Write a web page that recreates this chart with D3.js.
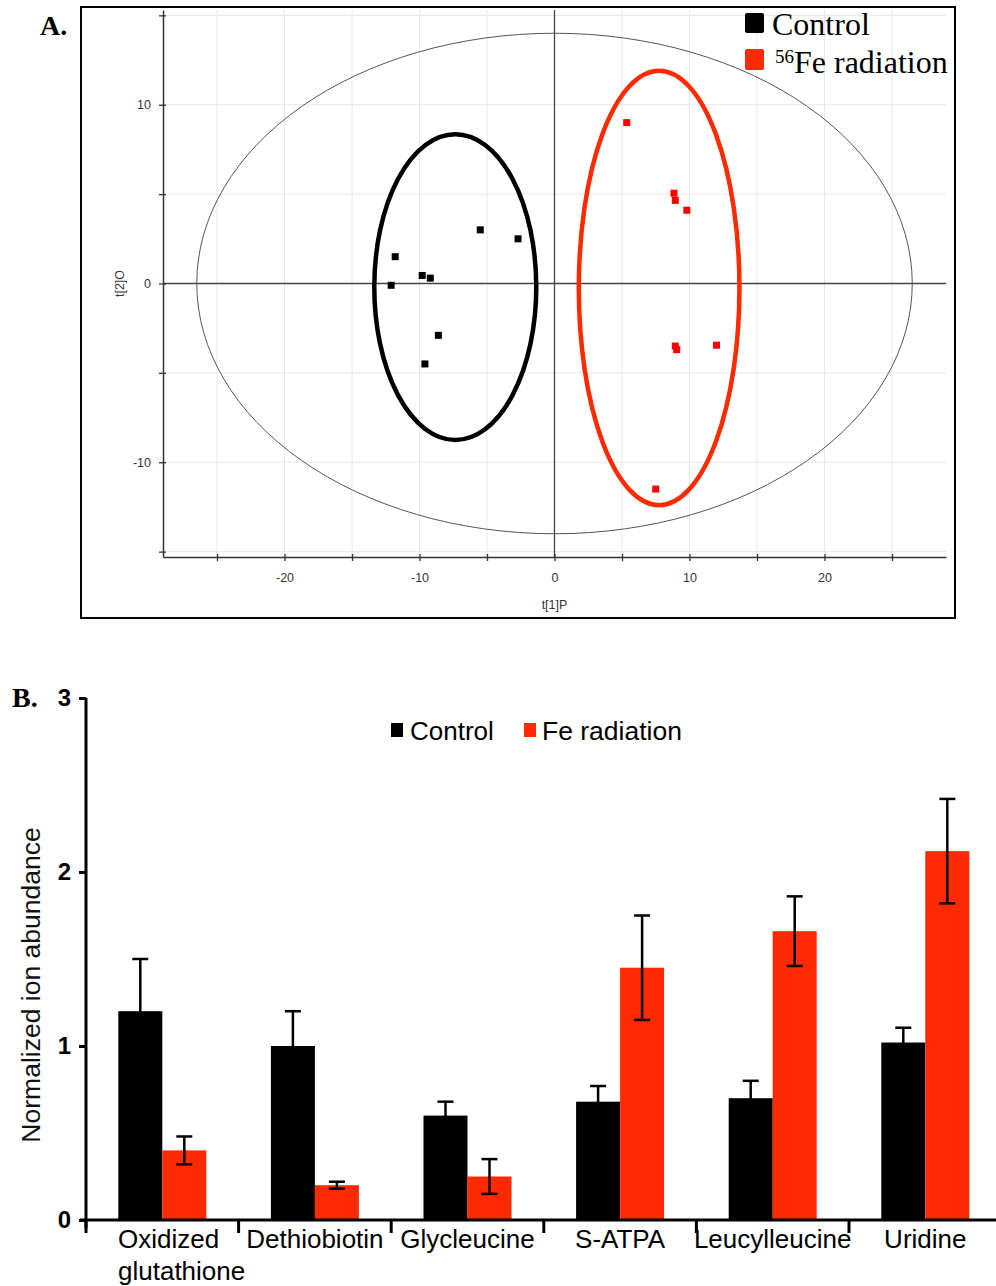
<!DOCTYPE html>
<html>
<head>
<meta charset="utf-8">
<script src="https://cdn.jsdelivr.net/npm/d3@7"></script>
<style>
  body { margin: 0; background: #fff; }
  svg { display: block; }
</style>
</head>
<body>
<div id="chart"></div>
<script>
// Panel A - score plot data (t[1]P, t[2]O)
var controlX = [-5.5, -2.7, -11.8, -9.8, -9.2, -12.1, -8.6, -9.6];
var controlY = [3.0, 2.5, 1.5, 0.45, 0.3, -0.1, -2.9, -4.5];
var feX = [5.35, 8.85, 8.95, 9.8, 8.95, 9.05, 12.0, 7.5];
var feY = [9.0, 5.05, 4.65, 4.1, -3.5, -3.7, -3.45, -11.5];
var scoreTicks = [-25, -20, -15, -10, -5, 0, 5, 10, 15, 20, 25];

// Panel B - bar chart data
var categories = ["Oxidized glutathione", "Dethiobiotin", "Glycleucine", "S-ATPA", "Leucylleucine", "Uridine"];
var controlMean = [1.20, 1.00, 0.60, 0.68, 0.70, 1.02];
var controlErr = [0.30, 0.20, 0.08, 0.09, 0.10, 0.085];
var feMean = [0.40, 0.20, 0.25, 1.45, 1.66, 2.12];
var feErr = [0.08, 0.02, 0.10, 0.30, 0.20, 0.30];
var barTicks = [0, 1, 2, 3];

var svgWidth = 996;
var svgHeight = 1286;
var red = "#ff2a00";

var svg = d3.select("#chart")
  .append("svg")
  .attr("width", svgWidth)
  .attr("height", svgHeight);

// ---------- Panel A ----------
var xA = d3.scaleLinear().domain([-29, 29]).range([163, 946]);
var yA = d3.scaleLinear().domain([-15.3, 15.3]).range([557, 10]);

var gA = svg.append("g");

// grid
gA.append("g").selectAll("line")
  .data(scoreTicks)
  .enter()
  .append("line")
  .attr("x1", d => xA(d)).attr("x2", d => xA(d))
  .attr("y1", yA(15.3)).attr("y2", yA(-15.3))
  .attr("stroke", "#e8e8e8");

gA.append("g").selectAll("line")
  .data(scoreTicks.filter(d => Math.abs(d) <= 15))
  .enter()
  .append("line")
  .attr("x1", xA(-29)).attr("x2", xA(29))
  .attr("y1", d => yA(d)).attr("y2", d => yA(d))
  .attr("stroke", "#e8e8e8");

// zero lines
gA.append("line")
  .attr("x1", xA(-29)).attr("x2", xA(29))
  .attr("y1", yA(0)).attr("y2", yA(0))
  .attr("stroke", "#444").attr("stroke-width", 1.3);
gA.append("line")
  .attr("x1", xA(0)).attr("x2", xA(0))
  .attr("y1", yA(15.3)).attr("y2", yA(-15.3))
  .attr("stroke", "#444").attr("stroke-width", 1.3);

// axes
var bottomAxis = d3.axisBottom(xA)
  .tickValues(scoreTicks)
  .tickSizeOuter(0)
  .tickSizeInner(4)
  .tickPadding(12)
  .tickFormat(d => d % 10 === 0 ? d : "");
var leftAxis = d3.axisLeft(yA)
  .tickValues([-15, -10, -5, 0, 5, 10, 15])
  .tickSizeOuter(0)
  .tickSizeInner(4)
  .tickPadding(8)
  .tickFormat(d => d % 10 === 0 ? d : "");

var xAxisA = gA.append("g")
  .attr("transform", `translate(0,${yA(-15.3)})`)
  .call(bottomAxis);
var yAxisA = gA.append("g")
  .attr("transform", `translate(${xA(-29)},0)`)
  .call(leftAxis);

[xAxisA, yAxisA].forEach(function (ax) {
  ax.select(".domain").attr("stroke", "#333").attr("stroke-width", 1.5);
  ax.selectAll(".tick line").attr("stroke", "#333").attr("stroke-width", 1.3);
  ax.selectAll("text")
    .attr("font-family", "Liberation Sans, Arial, sans-serif")
    .attr("font-size", "12.5px")
    .attr("fill", "#333");
});
xAxisA.selectAll(".tick line").attr("y1", -3).attr("y2", 4);
yAxisA.selectAll(".tick line").attr("x1", 3).attr("x2", -4);

gA.append("text")
  .attr("x", xA(0)).attr("y", 609)
  .attr("text-anchor", "middle")
  .attr("font-family", "Liberation Sans, Arial, sans-serif")
  .attr("font-size", "12.5px").attr("fill", "#333")
  .text("t[1]P");
gA.append("text")
  .attr("transform", `translate(124,${yA(0)}) rotate(-90)`)
  .attr("text-anchor", "middle")
  .attr("font-family", "Liberation Sans, Arial, sans-serif")
  .attr("font-size", "12.5px").attr("fill", "#333")
  .text("t[2]O");

// Hotelling ellipse
gA.append("ellipse")
  .attr("cx", xA(0)).attr("cy", yA(0))
  .attr("rx", xA(26.5) - xA(0)).attr("ry", yA(0) - yA(14))
  .attr("fill", "none").attr("stroke", "#555").attr("stroke-width", 1);

// group ellipses
gA.append("ellipse")
  .attr("cx", xA(-7.35)).attr("cy", yA(-0.2))
  .attr("rx", xA(6.0) - xA(0)).attr("ry", yA(0) - yA(8.55))
  .attr("fill", "none").attr("stroke", "#000").attr("stroke-width", 4.5);
gA.append("ellipse")
  .attr("cx", xA(7.75)).attr("cy", yA(-0.25))
  .attr("rx", xA(5.95) - xA(0)).attr("ry", yA(0) - yA(12.15))
  .attr("fill", "none").attr("stroke", red).attr("stroke-width", 4.5);

// points
gA.append("g").selectAll("rect")
  .data(controlX.map((d, i) => [d, controlY[i]]))
  .enter()
  .append("rect")
  .attr("x", d => xA(d[0]) - 3.5).attr("y", d => yA(d[1]) - 3.5)
  .attr("width", 7).attr("height", 7)
  .attr("fill", "#000");
gA.append("g").selectAll("rect")
  .data(feX.map((d, i) => [d, feY[i]]))
  .enter()
  .append("rect")
  .attr("x", d => xA(d[0]) - 3.5).attr("y", d => yA(d[1]) - 3.5)
  .attr("width", 7).attr("height", 7)
  .attr("fill", "#ff0000");

// frame
gA.append("rect")
  .attr("x", 81).attr("y", 7).attr("width", 874).attr("height", 611)
  .attr("fill", "none").attr("stroke", "#000").attr("stroke-width", 2);

// legend A
gA.append("rect").attr("x", 745).attr("y", 13).attr("width", 19).attr("height", 20).attr("rx", 2).attr("fill", "#000");
gA.append("rect").attr("x", 745).attr("y", 49).attr("width", 19).attr("height", 21).attr("rx", 2).attr("fill", red);
gA.append("text")
  .attr("x", 772).attr("y", 35)
  .attr("font-family", "Liberation Serif, Times New Roman, serif")
  .attr("font-size", "32px").attr("fill", "#000")
  .text("Control");
var feLabel = gA.append("text")
  .attr("x", 775).attr("y", 73)
  .attr("font-family", "Liberation Serif, Times New Roman, serif")
  .attr("font-size", "32px").attr("fill", "#000");
feLabel.append("tspan").attr("font-size", "19px").attr("dy", -10).text("56");
feLabel.append("tspan").attr("dy", 10).text("Fe radiation");

gA.append("text")
  .attr("x", 40).attr("y", 35)
  .attr("font-family", "Liberation Serif, Times New Roman, serif")
  .attr("font-weight", "bold")
  .attr("font-size", "28px")
  .text("A.");

// ---------- Panel B ----------
var yB = d3.scaleLinear().domain([0, 3]).range([1220, 698]);
var x0 = d3.scaleBand().domain(categories).range([86, 86 + 152.6 * 6]).padding(0);
var x1 = d3.scaleBand().domain(["Control", "Fe"]).range([0, x0.bandwidth()])
  .paddingInner(0).paddingOuter(0.734);

var gB = svg.append("g");

var barData = categories.map(function (c, i) {
  return [
    { cat: c, key: "Control", value: controlMean[i], err: controlErr[i] },
    { cat: c, key: "Fe", value: feMean[i], err: feErr[i] }
  ];
});

var groups = gB.selectAll(".grp")
  .data(barData)
  .enter()
  .append("g")
  .attr("class", "grp")
  .attr("transform", d => `translate(${x0(d[0].cat)},0)`);

groups.selectAll("rect")
  .data(d => d)
  .enter()
  .append("rect")
  .attr("x", d => x1(d.key))
  .attr("y", d => yB(d.value))
  .attr("width", x1.bandwidth())
  .attr("height", d => yB(0) - yB(d.value))
  .attr("fill", d => d.key === "Control" ? "#000" : red);

// error bars
var errs = groups.selectAll(".err")
  .data(d => d)
  .enter()
  .append("g")
  .attr("class", "err")
  .attr("stroke", "#000")
  .attr("stroke-width", 2.5);
errs.append("line")
  .attr("x1", d => x1(d.key) + x1.bandwidth() / 2)
  .attr("x2", d => x1(d.key) + x1.bandwidth() / 2)
  .attr("y1", d => yB(d.value + d.err))
  .attr("y2", d => yB(d.value - d.err));
errs.append("line")
  .attr("x1", d => x1(d.key) + x1.bandwidth() / 2 - 8)
  .attr("x2", d => x1(d.key) + x1.bandwidth() / 2 + 8)
  .attr("y1", d => yB(d.value + d.err))
  .attr("y2", d => yB(d.value + d.err));
errs.append("line")
  .attr("x1", d => x1(d.key) + x1.bandwidth() / 2 - 8)
  .attr("x2", d => x1(d.key) + x1.bandwidth() / 2 + 8)
  .attr("y1", d => yB(d.value - d.err))
  .attr("y2", d => yB(d.value - d.err));

// y axis
var yAxisB = gB.append("g")
  .attr("transform", "translate(86,0)")
  .call(d3.axisLeft(yB).tickValues(barTicks).tickFormat(d3.format("d"))
    .tickSizeOuter(0).tickSizeInner(7).tickPadding(8));
yAxisB.select(".domain").attr("stroke", "#000").attr("stroke-width", 3)
  .attr("d", `M0,${yB(3)}V${yB(0) + 8}`);
yAxisB.selectAll(".tick line").attr("stroke", "#000").attr("stroke-width", 3);
yAxisB.selectAll("text")
  .attr("font-family", "Liberation Sans, Arial, sans-serif")
  .attr("font-weight", "bold")
  .attr("font-size", "24px")
  .attr("fill", "#000");

// x axis
gB.append("line")
  .attr("x1", 80).attr("x2", svgWidth)
  .attr("y1", yB(0)).attr("y2", yB(0))
  .attr("stroke", "#000").attr("stroke-width", 3);
gB.append("g").selectAll("line")
  .data(categories)
  .enter()
  .append("line")
  .attr("x1", d => x0(d)).attr("x2", d => x0(d))
  .attr("y1", yB(0)).attr("y2", yB(0) + 13)
  .attr("stroke", "#000").attr("stroke-width", 3);

// category labels
gB.append("g").selectAll("text")
  .data(categories)
  .enter()
  .append("text")
  .attr("font-family", "Liberation Sans, Arial, sans-serif")
  .attr("font-size", "26px")
  .attr("fill", "#000")
  .each(function (d) {
    var t = d3.select(this);
    if (d === "Oxidized glutathione") {
      t.attr("text-anchor", "start");
      t.append("tspan").attr("x", x0(d) + 32).attr("y", 1248).text("Oxidized");
      t.append("tspan").attr("x", x0(d) + 32).attr("y", 1280).text("glutathione");
    } else {
      t.attr("text-anchor", "middle")
        .attr("x", x0(d) + x0.bandwidth() / 2)
        .attr("y", 1248)
        .text(d);
    }
  });

// y label
gB.append("text")
  .attr("transform", "translate(40,985) rotate(-90)")
  .attr("text-anchor", "middle")
  .attr("font-family", "Liberation Sans, Arial, sans-serif")
  .attr("font-size", "26.5px")
  .attr("fill", "#111")
  .text("Normalized ion abundance");

// legend B
gB.append("rect").attr("x", 391).attr("y", 723).attr("width", 12).attr("height", 14).attr("fill", "#000");
gB.append("text").attr("x", 410).attr("y", 740)
  .attr("font-family", "Liberation Sans, Arial, sans-serif")
  .attr("font-size", "26px").text("Control");
gB.append("rect").attr("x", 524).attr("y", 723).attr("width", 12).attr("height", 14).attr("fill", red);
gB.append("text").attr("x", 542).attr("y", 740)
  .attr("font-family", "Liberation Sans, Arial, sans-serif")
  .attr("font-size", "26.5px").text("Fe radiation");

gB.append("text")
  .attr("x", 12).attr("y", 707)
  .attr("font-family", "Liberation Serif, Times New Roman, serif")
  .attr("font-weight", "bold")
  .attr("font-size", "28px")
  .text("B.");
</script>
</body>
</html>
